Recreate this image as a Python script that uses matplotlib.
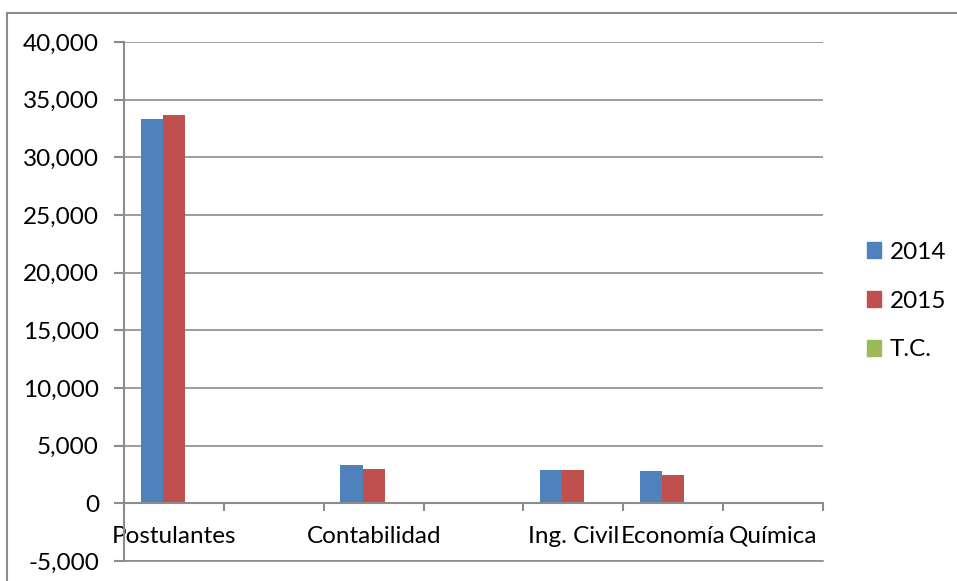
import numpy as np
import matplotlib.pyplot as plt
from matplotlib.patches import Patch
from matplotlib.lines import Line2D

# chart data
categories = ["Postulantes", "", "Contabilidad", "", "Ing. Civil", "Economía", "Química"]
v2014 = [33365, np.nan, 3304, np.nan, 2930, 2843, 110]
v2015 = [33713, np.nan, 2957, np.nan, 2870, 2496, 100]
tc = [0.01, np.nan, -0.11, np.nan, -0.02, -0.12, -0.08]
series_names = ["2014", "2015", "T.C."]
colors = ["#4F81BD", "#C0504D", "#9BBB59"]
yticks = np.arange(-5000, 40001, 5000)

plt.rcParams['font.family'] = ['Lato', 'DejaVu Sans']
grey = "#8c8c8c"
fs = 17.5

fig = plt.figure(figsize=(9.57, 5.81), dpi=100)
ax = fig.add_axes([124 / 957, 1 - 561 / 581, (823 - 124) / 957, (561 - 42) / 581])

x = np.arange(len(categories))
w = 0.222
for i, (vals, c) in enumerate(zip([v2014, v2015, tc], colors)):
    ax.bar(x + (i - 1) * w, vals, width=w, color=c, zorder=3)

ax.set_xlim(-0.5, len(categories) - 0.5)
ax.set_ylim(-5000, 40000)
ax.set_yticks(yticks)
ax.set_yticklabels([f"{v:,}" for v in yticks])
ax.yaxis.grid(True, color=grey, linewidth=1.2, zorder=0)
ax.axhline(-5000, color=grey, linewidth=1.2, clip_on=False, zorder=0)

# category axis crosses at zero
ax.spines['bottom'].set_position(('data', 0))
ax.spines['bottom'].set_color(grey)
ax.spines['bottom'].set_linewidth(1.5)
ax.spines['bottom'].set_zorder(4)
ax.spines['left'].set_color(grey)
ax.spines['left'].set_linewidth(1.5)
for s in ['top', 'right']:
    ax.spines[s].set_visible(False)

ax.set_xticks(np.arange(len(categories) + 1) - 0.5)
ax.set_xticklabels([])
ax.set_xticks(x, minor=True)
ax.set_xticklabels(categories, minor=True)
ax.tick_params(axis='x', which='major', length=6, width=1.5, color=grey)
ax.tick_params(axis='x', which='minor', length=0, pad=16, labelsize=fs)
ax.tick_params(axis='y', length=7, width=1.5, color=grey, pad=11, labelsize=fs)

handles = [Patch(color=c) for c in colors]
ax.legend(handles, series_names, loc='center left', bbox_to_anchor=(845 / 957, 1 - 301 / 581),
          bbox_transform=fig.transFigure, frameon=False, fontsize=fs,
          handlelength=0.6, handleheight=0.6, handletextpad=0.35, labelspacing=1.15)

# outer chart frame (partly cropped)
fig.add_artist(Line2D([7 / 957, 1], [1 - 13 / 581] * 2, color=grey, linewidth=1.5))
fig.add_artist(Line2D([7 / 957] * 2, [0, 1 - 13 / 581], color=grey, linewidth=1.5))

fig.savefig("out.png", dpi=100)
